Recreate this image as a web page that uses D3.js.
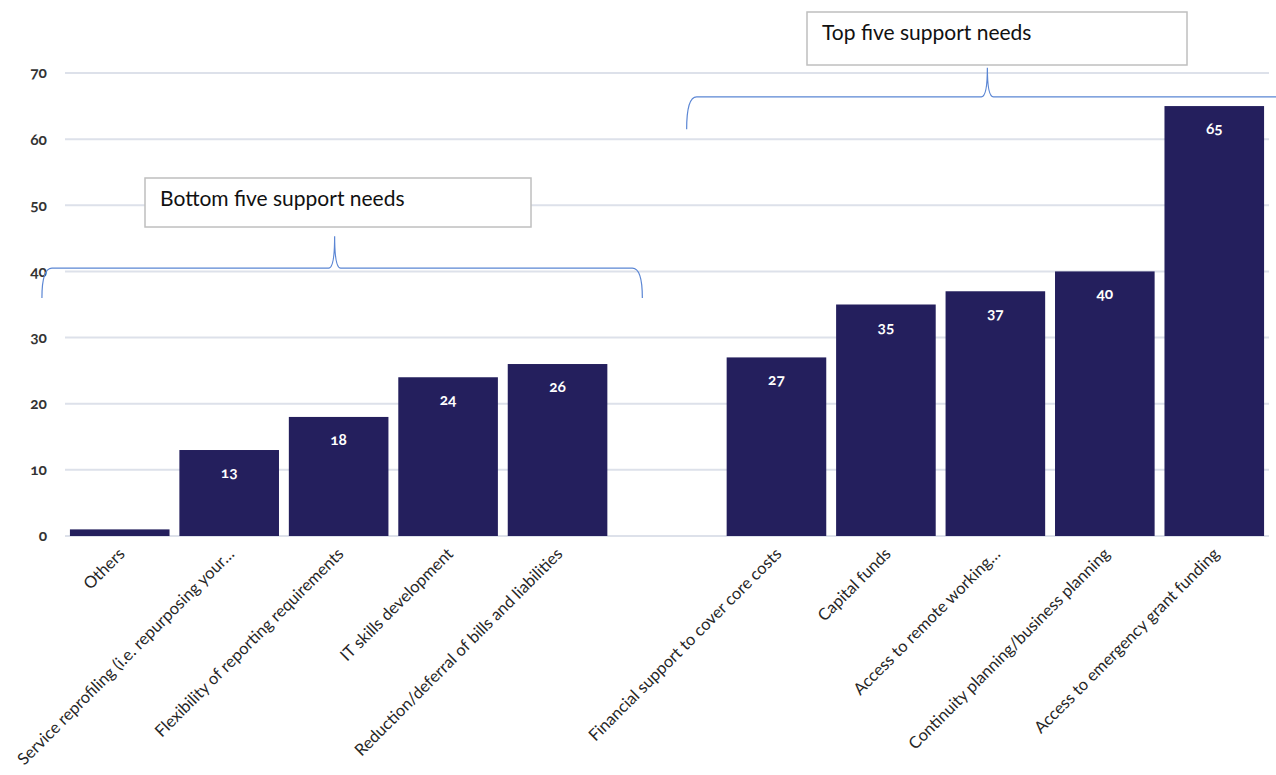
<!DOCTYPE html>
<html>
<head>
<meta charset="utf-8">
<script src="https://cdn.jsdelivr.net/npm/d3@7"></script>
<style>
  body { margin: 0; background: #fff; }
  svg { display: block; font-family: Lato, "Open Sans", sans-serif; font-variant-numeric: oldstyle-nums; }
  .grid line { stroke: #dde1ea; stroke-width: 2; }
  .yaxis text { font-size: 15.5px; font-weight: 700; fill: #333; }
  .cat { font-size: 16.5px; fill: #262626; }
  .val { font-size: 15.5px; font-weight: 700; fill: #fff; }
  .brace { fill: none; stroke: #5b86d4; stroke-width: 1.2; }
  .box { fill: #fff; stroke: #bfbfbf; stroke-width: 1.5; }
  .boxlabel { font-size: 21px; fill: #111; }
</style>
</head>
<body>
<svg id="chart" width="1276" height="775"></svg>
<script>
(function() {
const categories = [
  'Others',
  'Service reprofiling (i.e. repurposing your…',
  'Flexibility of reporting requirements',
  'IT skills development',
  'Reduction/deferral of bills and liabilities',
  '',
  'Financial support to cover core costs',
  'Capital funds',
  'Access to remote working…',
  'Continuity planning/business planning',
  'Access to emergency grant funding',
];
const values = [1, 13, 18, 24, 26, null, 27, 35, 37, 40, 65];
const yTicks = [0, 10, 20, 30, 40, 50, 60, 70];
const groupLabels = ['Bottom five support needs', 'Top five support needs'];

const svg = d3.select('svg#chart');
const keys = categories.map((c, i) => i);

const x = d3.scaleBand().domain(keys).range([65, 1269]).paddingInner(0.09).paddingOuter(0.045);
const y = d3.scaleLinear().domain([0, 70]).range([536, 73]);

// gridlines
svg.append('g').attr('class', 'grid')
  .selectAll('line').data(yTicks).join('line')
  .attr('x1', 65).attr('x2', 1269)
  .attr('y1', d => y(d)).attr('y2', d => y(d));

// y labels
svg.append('g').attr('class', 'yaxis')
  .selectAll('text').data(yTicks).join('text')
  .attr('x', 47).attr('y', d => y(d)).attr('dy', '0.35em')
  .attr('text-anchor', 'end')
  .text(d => d);

// bars
const bars = keys.filter(i => values[i] != null);
svg.append('g').selectAll('rect').data(bars).join('rect')
  .attr('x', i => x(i)).attr('width', x.bandwidth())
  .attr('y', i => y(values[i])).attr('height', i => y(0) - y(values[i]))
  .attr('fill', '#241f5d');

svg.append('g').selectAll('text').data(bars.filter(i => values[i] >= 5)).join('text')
  .attr('class', 'val')
  .attr('x', i => x(i) + x.bandwidth() / 2)
  .attr('y', i => y(values[i]) + 28)
  .attr('text-anchor', 'middle')
  .text(i => values[i]);

// category labels
svg.append('g').selectAll('text').data(keys.filter(i => categories[i])).join('text')
  .attr('class', 'cat')
  .attr('text-anchor', 'end')
  .attr('transform', i => `translate(${x(i) + x.bandwidth() / 2 + 6},${y(0) + 19}) rotate(-45)`)
  .text(i => categories[i]);

// braces
function brace(x0, x1, tip, yLine, yEnd, yTip) {
  const r = 10;
  return `M${x0},${yEnd} Q${x0},${yLine} ${x0 + r},${yLine} L${tip - 6},${yLine}` +
    ` Q${tip},${yLine} ${tip},${yTip} Q${tip},${yLine} ${tip + 6},${yLine}` +
    ` L${x1 - r},${yLine} Q${x1},${yLine} ${x1},${yEnd}`;
}
const bw = x.bandwidth();
svg.append('path').attr('class', 'brace')
  .attr('d', brace(x(0) - 28, x(4) + bw + 35, x(2) + bw / 2 - 4, y(40.5), y(36), y(45.3)));
svg.append('path').attr('class', 'brace')
  .attr('d', brace(x(6) - 40, 1300, x(8) + bw / 2 - 8, y(66.4), y(61.5), y(70.8)));

// label boxes
const boxes = [
  { x0: 145, y0: 178, w: 386, h: 49, label: groupLabels[0] },
  { x0: 807, y0: 12, w: 380, h: 53, label: groupLabels[1] },
];
const bg = svg.append('g').selectAll('g').data(boxes).join('g');
bg.append('rect').attr('class', 'box')
  .attr('x', d => d.x0).attr('y', d => d.y0).attr('width', d => d.w).attr('height', d => d.h);
bg.append('text').attr('class', 'boxlabel')
  .attr('x', d => d.x0 + 15).attr('y', d => d.y0 + 28)
  .text(d => d.label);
})();
</script>
</body>
</html>
